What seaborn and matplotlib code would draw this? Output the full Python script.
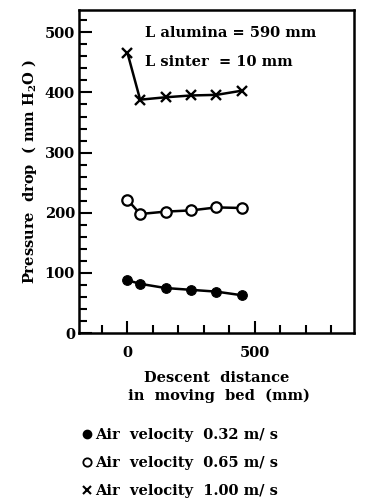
import matplotlib
matplotlib.use("Agg")
import matplotlib.pyplot as plt
from matplotlib.lines import Line2D
from matplotlib.ticker import MultipleLocator
import seaborn as sns

# descent distance in moving bed (mm)
distance = [0, 50, 150, 250, 350, 450]
# pressure drop (mm H2O) for each air velocity
dp_032 = [88, 82, 75, 72, 69, 63]
dp_065 = [222, 198, 202, 204, 209, 208]
dp_100 = [466, 388, 392, 395, 396, 403]
series_names = ["0.32", "0.65", "1.00"]

sns.set_theme(style="ticks")
plt.rcParams["font.family"] = ["DejaVu Serif"]
plt.rcParams["font.weight"] = "bold"
plt.rcParams["axes.labelweight"] = "bold"
plt.rcParams["text.color"] = "black"
plt.rcParams["axes.labelcolor"] = "black"
plt.rcParams["mathtext.fontset"] = "dejavuserif"
plt.rcParams["mathtext.default"] = "bf"

fig = plt.figure(figsize=(3.66, 5.01), dpi=100)
ax = fig.add_axes([0.216, 0.335, 0.751, 0.645])

sns.lineplot(x=distance, y=dp_032, color="black", linewidth=1.8,
             marker="o", markersize=7, mfc="black", mec="black", ax=ax)
sns.lineplot(x=distance, y=dp_065, color="black", linewidth=1.8,
             marker="o", markersize=7.5, mfc="white", mec="black", mew=1.6, ax=ax)
sns.lineplot(x=distance, y=dp_100, color="black", linewidth=1.8,
             marker="x", markersize=7, mec="black", mew=1.7, ax=ax)

ax.set_xlim(-190, 890)
ax.set_ylim(0, 537)
ax.set_xticks([0, 500])
ax.xaxis.set_minor_locator(MultipleLocator(100))
ax.yaxis.set_major_locator(MultipleLocator(100))
ax.yaxis.set_minor_locator(MultipleLocator(20))
ax.tick_params(which="both", direction="in", width=1.5, labelsize=10.5,
               colors="black", top=False, right=False)
ax.tick_params(which="major", length=9)
ax.tick_params(which="minor", length=6)
ax.tick_params(axis="x", pad=9)
ax.tick_params(axis="y", pad=3)
for s in ax.spines.values():
    s.set_linewidth(1.8)
    s.set_color("black")

ax.set_xlabel("Descent  distance\n in  moving  bed  (mm)", fontsize=10.5,
              linespacing=1.3, labelpad=8)
ax.set_ylabel("Pressure  drop  ( mm H$_2$O )", fontsize=10.5, labelpad=4)

ax.text(0.24, 0.93, "L alumina = 590 mm", transform=ax.transAxes,
        fontsize=10.5, ha="left", va="center")
ax.text(0.24, 0.84, "L sinter  = 10 mm", transform=ax.transAxes,
        fontsize=10.5, ha="left", va="center")

handles = [
    Line2D([], [], ls="none", marker="o", color="black", ms=6),
    Line2D([], [], ls="none", marker="o", mfc="white", mec="black", ms=6, mew=1.3),
    Line2D([], [], ls="none", marker="x", color="black", ms=6, mew=1.5),
]
labels = ["Air  velocity  %s m/ s" % v for v in series_names]
fig.legend(handles, labels, loc="upper left", bbox_to_anchor=(0.205, 0.16),
           frameon=False, fontsize=10.5, handlelength=0.6, handletextpad=0.3,
           labelspacing=0.95, borderpad=0)

fig.savefig("out.png", dpi=100)
